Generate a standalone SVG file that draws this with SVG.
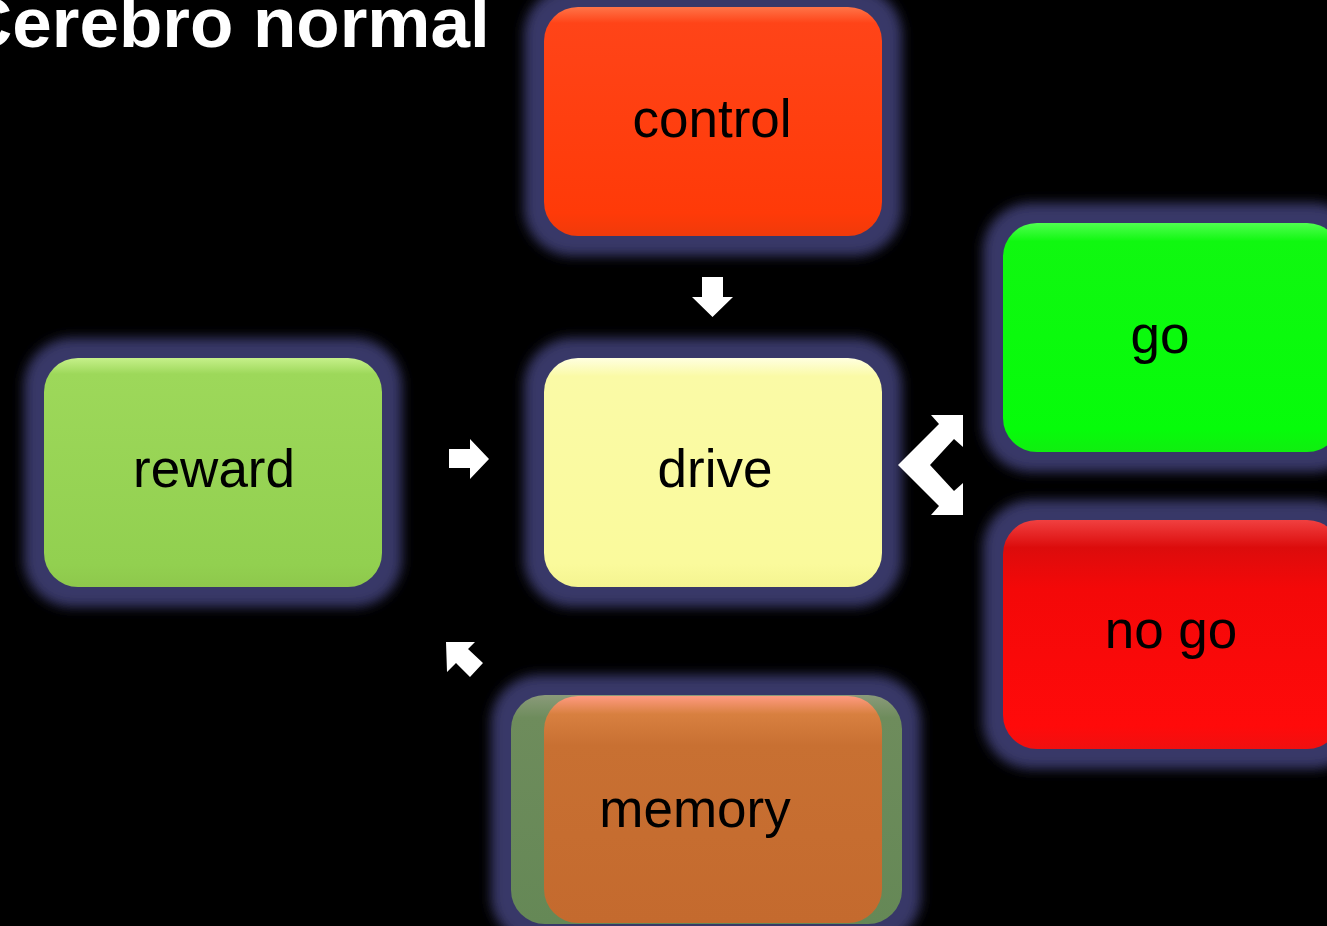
<svg xmlns="http://www.w3.org/2000/svg" width="1327" height="926" viewBox="0 0 1327 926">
<defs>
<filter id="halo" x="-30%" y="-30%" width="160%" height="160%"><feGaussianBlur stdDeviation="6"/></filter>
<linearGradient id="gControl" x1="0" y1="0" x2="0" y2="1"><stop offset="0" stop-color="#ff7448"/><stop offset="0.07" stop-color="#ff4418"/><stop offset="0.9" stop-color="#ff3a08"/><stop offset="1" stop-color="#f03a0a"/></linearGradient>
<linearGradient id="gReward" x1="0" y1="0" x2="0" y2="1"><stop offset="0" stop-color="#c6f08a"/><stop offset="0.07" stop-color="#9dd85a"/><stop offset="0.9" stop-color="#92d050"/><stop offset="1" stop-color="#8ec84c"/></linearGradient>
<linearGradient id="gDrive" x1="0" y1="0" x2="0" y2="1"><stop offset="0" stop-color="#ffffe0"/><stop offset="0.08" stop-color="#fafaa6"/><stop offset="0.9" stop-color="#fafa9c"/><stop offset="1" stop-color="#f4f490"/></linearGradient>
<linearGradient id="gGo" x1="0" y1="0" x2="0" y2="1"><stop offset="0" stop-color="#50ff50"/><stop offset="0.08" stop-color="#10f810"/><stop offset="0.9" stop-color="#06fc0a"/><stop offset="1" stop-color="#10ee10"/></linearGradient>
<linearGradient id="gNogo" x1="0" y1="0" x2="0" y2="1"><stop offset="0" stop-color="#f04040"/><stop offset="0.12" stop-color="#dc0c0c"/><stop offset="0.3" stop-color="#f40808"/><stop offset="0.9" stop-color="#ff0a0a"/><stop offset="1" stop-color="#f01010"/></linearGradient>
<linearGradient id="gMemory" x1="0" y1="0" x2="0" y2="1"><stop offset="0" stop-color="#ff9a80"/><stop offset="0.08" stop-color="#d88040"/><stop offset="0.22" stop-color="#c87032"/><stop offset="1" stop-color="#c46a2e"/></linearGradient>
<linearGradient id="gMemBack" x1="0" y1="0" x2="0" y2="1"><stop offset="0" stop-color="#8a9a7a"/><stop offset="0.1" stop-color="#6e8c5c"/><stop offset="1" stop-color="#658856"/></linearGradient>
</defs>
<style>
.halo{fill:#383868;filter:url(#halo)}
.lbl{font-family:"Liberation Sans",Arial,sans-serif;font-size:53px;fill:#000;text-anchor:middle}
.arrow{fill:#fff}
</style>
<rect width="1327" height="926" fill="#000"/>
<text x="-39" y="47" font-family="Liberation Sans,Arial,sans-serif" font-weight="bold" font-size="71" fill="#fff">Cerebro normal</text>

<g id="control">
<rect class="halo" x="524" y="-13" width="378" height="269" rx="48"/>
<rect x="544" y="7" width="338" height="229" rx="34" fill="url(#gControl)"/>
<text class="lbl" x="712" y="137">control</text>
</g>
<g id="reward">
<rect class="halo" x="24" y="338" width="378" height="269" rx="48"/>
<rect x="44" y="358" width="338" height="229" rx="34" fill="url(#gReward)"/>
<text class="lbl" x="214" y="487">reward</text>
</g>
<g id="drive">
<rect class="halo" x="524" y="338" width="378" height="269" rx="48"/>
<rect x="544" y="358" width="338" height="229" rx="34" fill="url(#gDrive)"/>
<text class="lbl" x="715" y="487">drive</text>
</g>
<g id="go">
<rect class="halo" x="983" y="203" width="378" height="269" rx="48"/>
<rect x="1003" y="223" width="338" height="229" rx="34" fill="url(#gGo)"/>
<text class="lbl" x="1160" y="353">go</text>
</g>
<g id="nogo">
<rect class="halo" x="983" y="500" width="378" height="269" rx="48"/>
<rect x="1003" y="520" width="338" height="229" rx="34" fill="url(#gNogo)"/>
<text class="lbl" x="1171" y="648">no go</text>
</g>
<g id="memory">
<rect class="halo" x="491" y="675" width="430" height="269" rx="48"/>
<rect x="511" y="695" width="391" height="229" rx="34" fill="url(#gMemBack)"/>
<rect x="544" y="696" width="338" height="227" rx="34" fill="url(#gMemory)"/>
<text class="lbl" x="695" y="827">memory</text>
</g>

<g id="connectors">
<polygon class="arrow" points="702,277 723,277 723,297 733,297 712.5,317 692,297 702,297"/>
<polygon class="arrow" points="449,449 470,449 470,439 489,459 470,479 470,468 449,468"/>
<polygon class="arrow" points="898,465 939,424 931,415 963,415 963,447 954,439 930,465 954,491 963,483 963,515 931,515 939,506"/>
<polygon class="arrow" points="446,642 475,642 468,649 483,663 470,677 456,663 447,672"/>
</g>
</svg>
